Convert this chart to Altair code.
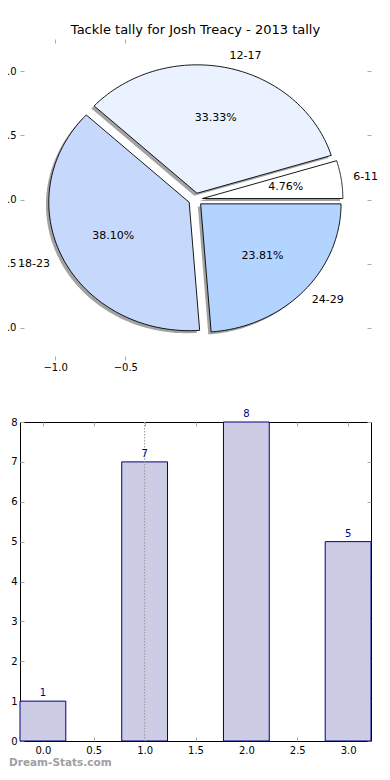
import altair as alt
import pandas as pd

# ---------------- data ----------------
slice_labels = ["6-11", "12-17", "18-23", "24-29"]
slice_values = [1, 7, 8, 5]
slice_colors = ["#ffffff", "#eaf2ff", "#c6d9fd", "#b3d4ff"]
slice_order = [0, 1, 2, 3]

bar_positions = [0, 1, 2, 3]
bar_counts = [1, 7, 8, 5]
guide_x = [1.0]

pie_x_ticks = [-1.0, -0.5]
pie_y_ticks = [-1.0, -0.5, 0.0, 0.5, 1.0]
bar_x_ticks = [0.0, 0.5, 1.0, 1.5, 2.0, 2.5, 3.0]
bar_y_ticks = [0, 1, 2, 3, 4, 5, 6, 7, 8]

title_text = "Tackle tally for Josh Treacy - 2013 tally"
watermark = ["Dream-Stats.com"]

# ---------------- styles ----------------
FONT = "DejaVu Sans"
EXPLODE = 0.05
SHADOW = 0.02
TICK_COLOR = "#aaaaaa"
PIE_W, PIE_H = 351, 321
BAR_W, BAR_H = 351, 319
HALF_BAR = 0.225

pie_df = pd.DataFrame({"label": slice_labels, "value": slice_values,
                       "color": slice_colors, "order": slice_order})

xs = alt.Scale(domain=[-1.25, 1.25], nice=False, zero=False)
ys = alt.Scale(domain=[-1.25, 1.25], nice=False, zero=False)

base = (
    alt.Chart(pie_df)
    .transform_joinaggregate(total="sum(value)")
    .transform_window(cum="sum(value)", sort=[alt.SortField("order")], frame=[None, 0])
    .transform_calculate(
        a0="2*PI*(datum.cum - datum.value)/datum.total",
        a1="2*PI*datum.cum/datum.total",
    )
    .transform_calculate(mid="(datum.a0 + datum.a1)/2")
    .transform_calculate(
        cx=f"{EXPLODE}*cos(datum.mid)",
        cy=f"{EXPLODE}*sin(datum.mid)",
        pct="format(100*datum.value/datum.total, '.2f') + '%'",
    )
    .transform_calculate(
        lx="datum.cx + 1.1*cos(datum.mid)",
        ly="datum.cy + 1.1*sin(datum.mid)",
        tx="datum.cx + 0.6*cos(datum.mid)",
        ty="datum.cy + 0.6*sin(datum.mid)",
    )
)

poly = (
    base.transform_calculate(idx="sequence(0, 82)")
    .transform_flatten(["idx"])
    .transform_calculate(t="datum.a0 + (datum.idx - 1)/80*(datum.a1 - datum.a0)")
    .transform_calculate(
        px="datum.cx + (datum.idx == 0 ? 0 : cos(datum.t))",
        py="datum.cy + (datum.idx == 0 ? 0 : sin(datum.t))",
    )
)

tick_axis = dict(domain=False, grid=False, ticks=True, tickSize=4, offset=-4,
                 tickColor=TICK_COLOR, tickWidth=1)

shadow = poly.transform_calculate(
    sx=f"datum.px - {SHADOW}", sy=f"datum.py - {SHADOW}"
).mark_line(interpolate="linear-closed", filled=True, color="#a3a3a3", strokeWidth=0).encode(
    x=alt.X("sx:Q", scale=xs, axis=alt.Axis(values=pie_x_ticks, format=".1f", orient="bottom",
                                            labelPadding=2, title=None, **tick_axis)),
    y=alt.Y("sy:Q", scale=ys, axis=alt.Axis(values=pie_y_ticks, format=".1f", orient="left",
                                            labelPadding=4, title=None, **tick_axis)),
    detail="label:N",
    order=alt.Order("idx:Q"),
)

wedges = poly.mark_line(interpolate="linear-closed", filled=True, stroke="black",
                        strokeWidth=0.9).encode(
    x=alt.X("px:Q", scale=xs, axis=alt.Axis(values=pie_x_ticks, orient="top", labels=False,
                                            title=None, **tick_axis)),
    y=alt.Y("py:Q", scale=ys, axis=alt.Axis(values=pie_y_ticks, orient="right", labels=False,
                                            title=None, **tick_axis)),
    fill=alt.Fill("color:N", scale=None),
    detail="label:N",
    order=alt.Order("idx:Q"),
)

lab_right = base.transform_filter("datum.lx > 0").mark_text(
    align="left", baseline="middle", fontSize=11, font=FONT, color="black", dx=-2
).encode(x=alt.X("lx:Q", scale=xs, axis=None), y=alt.Y("ly:Q", scale=ys, axis=None), text="label:N")

lab_left = base.transform_filter("datum.lx <= 0").mark_text(
    align="right", baseline="middle", fontSize=11, font=FONT, color="black"
).encode(x=alt.X("lx:Q", scale=xs, axis=None), y=alt.Y("ly:Q", scale=ys, axis=None), text="label:N")

pct = base.mark_text(align="center", baseline="middle", fontSize=11, font=FONT, color="black").encode(
    x=alt.X("tx:Q", scale=xs, axis=None), y=alt.Y("ty:Q", scale=ys, axis=None), text="pct:N")

pie = (
    alt.layer(shadow, wedges, lab_right, lab_left, pct)
    .resolve_axis(x="independent", y="independent")
    .properties(width=PIE_W, height=PIE_H,
                title=alt.TitleParams(title_text, fontSize=13, font=FONT, fontWeight="normal",
                                      anchor="middle", offset=-8.5, baseline="alphabetic", color="black"),
                view=alt.ViewBackground(stroke=None))
)

# ---------------- bar chart ----------------
bar_df = pd.DataFrame({"pos": bar_positions, "count": bar_counts})
bxs = alt.Scale(domain=[-HALF_BAR, 3 + HALF_BAR], nice=False, zero=False)
bys = alt.Scale(domain=[0, 8], nice=False)

bars = alt.Chart(bar_df).transform_calculate(
    x0=f"datum.pos - {HALF_BAR}", x1=f"datum.pos + {HALF_BAR}"
).mark_rect(fill="#ccccE5", stroke="#000080", strokeWidth=1).encode(
    x=alt.X("x0:Q", scale=bxs, axis=alt.Axis(values=bar_x_ticks, format=".1f", orient="bottom",
                                             labelPadding=4, title=None, **tick_axis)),
    x2="x1:Q",
    y=alt.Y("count:Q", scale=bys, axis=alt.Axis(values=bar_y_ticks, format="d", orient="left",
                                                labelPadding=3, title=None, **tick_axis)),
    y2=alt.datum(0),
)

bar_ticks2 = alt.Chart(bar_df).mark_point(opacity=0).encode(
    x=alt.X("pos:Q", scale=bxs, axis=alt.Axis(values=bar_x_ticks, orient="top", labels=False,
                                              title=None, **tick_axis)),
    y=alt.Y("count:Q", scale=bys, axis=alt.Axis(values=bar_y_ticks, orient="right", labels=False,
                                                title=None, **tick_axis)),
)

guide = alt.Chart(pd.DataFrame({"gx": guide_x})).mark_rule(
    color="#999999", strokeDash=[1.5, 1.5], strokeWidth=1
).encode(x=alt.X("gx:Q", scale=bxs, axis=None))

vals = alt.Chart(bar_df).mark_text(baseline="alphabetic", dy=-5, fontSize=10, font=FONT,
                                   color="#00008b").encode(
    x=alt.X("pos:Q", scale=bxs, axis=None),
    y=alt.Y("count:Q", scale=bys, axis=None),
    text="count:Q",
)

wm = alt.Chart(pd.DataFrame({"w": watermark})).mark_text(
    align="left", baseline="alphabetic", fontSize=10.5, font=FONT, color="#a0a0a0", fontWeight="bold"
).encode(x=alt.value(-11), y=alt.value(BAR_H + 24.5), text="w:N")

bar = (
    alt.layer(bars, bar_ticks2, guide, vals, wm)
    .resolve_axis(x="independent", y="independent")
    .properties(width=BAR_W, height=BAR_H,
                view=alt.ViewBackground(stroke="black", strokeWidth=1))
)

chart = (
    alt.vconcat(pie, bar, spacing=62, bounds="flush")
    .properties(padding={"left": -17, "top": 16, "right": 0, "bottom": -3})
    .configure(font=FONT)
    .configure_view(stroke=None)
    .configure_axis(labelFontSize=10, labelColor="black", labelFont=FONT)
)

chart.save("out.html", embed_options={"renderer": "svg", "actions": False})
